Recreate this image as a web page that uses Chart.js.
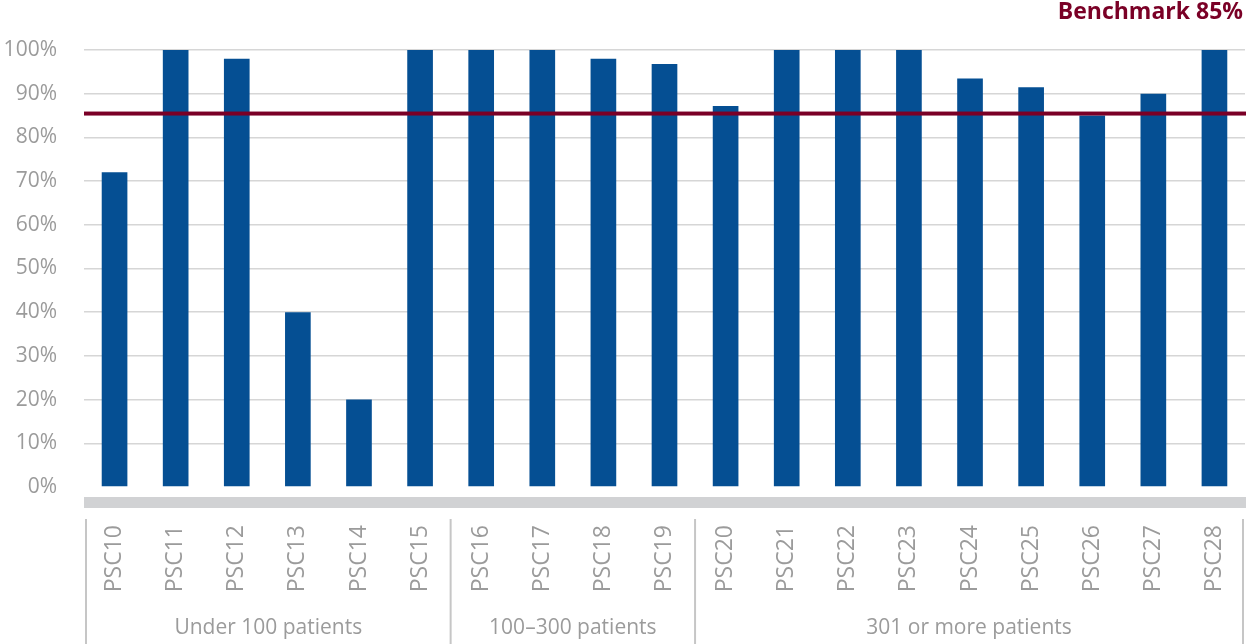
<!DOCTYPE html>
<html>
<head>
<meta charset="utf-8">
<script src="https://cdn.jsdelivr.net/npm/chart.js@4"></script>
<style>
  body { margin: 0; background: #fff; }
  .wrap { width: 1246px; height: 644px; position: relative; }
</style>
</head>
<body>
<div class="wrap"><canvas id="myChart"></canvas></div>
<script>
const categories = ['PSC10', 'PSC11', 'PSC12', 'PSC13', 'PSC14', 'PSC15', 'PSC16', 'PSC17', 'PSC18', 'PSC19',
  'PSC20', 'PSC21', 'PSC22', 'PSC23', 'PSC24', 'PSC25', 'PSC26', 'PSC27', 'PSC28'];
const values = [72, 100, 98, 40, 20, 100, 100, 100, 98, 96.8, 87.2, 100, 100, 100, 93.5, 91.5, 85, 90, 100];
const groupNames = ['Under 100 patients', '100–300 patients', '301 or more patients'];
const groupSizes = [6, 4, 9];
const benchmark = 85;
const benchmarkLabel = 'Benchmark 85%';

const grey = '#9b9b9b';
const fontName = '"Open Sans", sans-serif';

// gray band, group separators + names, benchmark line
const extras = {
  id: 'extras',
  afterDraw(chart) {
    const c = chart.ctx;
    const area = chart.chartArea;
    const x = chart.scales.x;
    const y = chart.scales.y;
    const step = x.getPixelForValue(1) - x.getPixelForValue(0);

    c.save();
    c.fillStyle = '#d1d2d4';
    c.fillRect(area.left, area.bottom + 10, area.right - area.left + 2, 11);

    c.strokeStyle = '#c6c6c6';
    c.lineWidth = 2;
    c.fillStyle = grey;
    c.font = '21px ' + fontName;
    c.textAlign = 'center';
    c.textBaseline = 'alphabetic';
    let start = 0;
    const edges = [];
    groupSizes.forEach(function (n) {
      edges.push(x.getPixelForValue(start) - step / 2);
      start += n;
    });
    edges.push(x.getPixelForValue(start - 1) + step / 2);
    edges[0] += 2;
    edges[edges.length - 1] -= 2;
    edges.forEach(function (ex) {
      c.beginPath();
      c.moveTo(ex, area.bottom + 32);
      c.lineTo(ex, chart.height);
      c.stroke();
    });
    groupNames.forEach(function (name, i) {
      c.fillText(name, (edges[i] + edges[i + 1]) / 2, area.bottom + 147);
    });

    const by = y.getPixelForValue(benchmark);
    c.fillStyle = '#7a0026';
    c.fillRect(area.left, by - 4, area.right - area.left + 2, 4);

    c.font = 'bold 23px ' + fontName;
    c.textAlign = 'right';
    c.textBaseline = 'middle';
    c.fillText(benchmarkLabel, chart.width - 3, 12);
    c.restore();
  }
};

const ctx = document.getElementById('myChart');

new Chart(ctx, {
  type: 'bar',
  data: {
    labels: categories,
    datasets: [{
      data: values,
      backgroundColor: '#054f93',
      barPercentage: 0.42,
      categoryPercentage: 1
    }]
  },
  options: {
    responsive: true,
    maintainAspectRatio: false,
    animation: false,
    layout: { padding: { top: 50, right: 1, left: 0, bottom: 0 } },
    scales: {
      x: {
        grid: { display: false, drawTicks: false },
        border: { display: false },
        ticks: {
          color: grey,
          font: { family: fontName, size: 23 },
          minRotation: 90,
          maxRotation: 90,
          padding: 38,
          autoSkip: false
        },
        afterFit(axis) {
          axis.height = 157;
          axis.paddingLeft = 0;
          axis.paddingRight = 0;
        }
      },
      y: {
        min: 0,
        max: 100,
        z: 1,
        grid: {
          drawTicks: false,
          lineWidth: 1.5,
          color: function (c) { return c.tick && c.tick.value === 0 ? 'rgba(0,0,0,0)' : '#d6d6d6'; }
        },
        border: { display: false },
        ticks: {
          stepSize: 10,
          color: grey,
          font: { family: fontName, size: 21 },
          padding: 27,
          callback: function (v) { return v + '%'; }
        },
        afterFit(axis) { axis.width = 84; }
      }
    },
    plugins: {
      legend: { display: false },
      title: { display: false },
      tooltip: { enabled: false }
    }
  },
  plugins: [extras]
});
</script>
</body>
</html>
